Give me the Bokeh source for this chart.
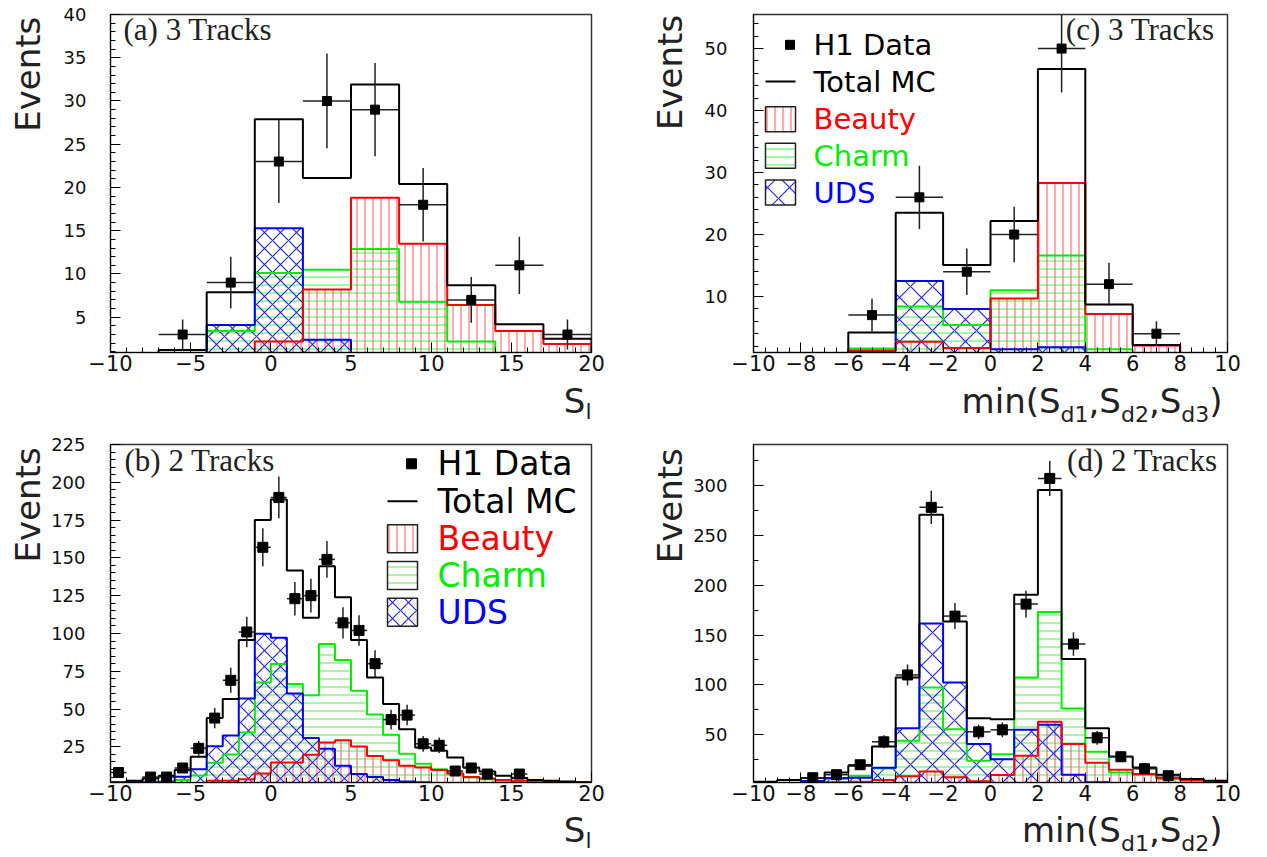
import numpy as np
from bokeh.plotting import figure
from bokeh.models import Range1d, FixedTicker, Label
from bokeh.layouts import column, row
from bokeh.embed import file_html
from bokeh.resources import INLINE

# ---------------- data ----------------
# (a) 3 tracks, S_l
a_edges = [-7, -4, -1, 2, 5, 8, 11, 14, 17, 20]
a_data = [3, 9, 23, 30, 29, 18, 7, 11, 3]
a_mc = [1.2, 7.9, 27.9, 21.1, 31.9, 20.4, 8.7, 4.2, 2.5]
a_beauty = [0, 0, 2.2, 8.2, 18.8, 13.5, 6.4, 3.4, 1.9]
a_charm = [0, 3.4, 10.1, 10.5, 12.9, 6.8, 2.2, 0, 0]
a_uds = [0, 4.1, 15.3, 2.4, 0, 0, 0, 0, 0]

# (c) 3 tracks, min(S_d1,S_d2,S_d3)
c_edges = [-6, -4, -2, 0, 2, 4, 6, 8]
c_data = [7, 26, 14, 20, 50, 12, 4]
c_mc = [4.2, 23.5, 15.1, 22.2, 46.7, 8.7, 2.2]
c_beauty = [1.3, 2.7, 1.7, 9.7, 28.3, 7.2, 2.1]
c_charm = [1.6, 8.4, 5.4, 11.0, 16.6, 1.5, 0]
c_uds = [1.2, 12.5, 8.0, 1.5, 1.8, 0, 0]

# (b) 2 tracks, S_l  (bins of width 1 from -10 to 20)
b_edges = list(range(-10, 21))
b_data = [8, 0, 5, 5, 11, 24, 44, 69, 101, 157, 190, 123, 125, 149, 107,
          102, 80, 43, 46, 27, 26, 9, 11, 7, 0, 7, 0, 0, 0, 0]
b_mc = [1.5, 2.5, 4.0, 5.8, 9.6, 18.4, 44, 56.6, 95.7, 175, 188.6, 141.6, 110.4, 144.4, 123.9,
        95.7, 70.9, 53.3, 36.7, 24.6, 22.4, 17.9, 11.3, 8.6, 5.8, 4.3, 3.1, 2.5, 2.0, 1.6]
b_beauty = [0, 0, 0, 0, 1, 1, 2.5, 2.5, 3.6, 7.3, 14.6, 14.6, 19.7, 27.8, 29.4,
            25.2, 19, 16.2, 12.4, 11.3, 9.6, 7.6, 5.1, 4, 3.1, 2.5, 2, 1.8, 1.6, 1.6]
b_charm = [0, 0, 2, 2, 3, 6, 14.5, 20, 34.5, 67.6, 79.8, 66.5, 59.2, 93, 82.4,
           62.1, 46.4, 33, 20.4, 13.8, 10.2, 6.9, 4.7, 3.6, 2.5, 2, 1.8, 1.5, 0, 0]
b_uds = [1, 1.5, 1.5, 1.5, 5.2, 10.2, 25.4, 32.5, 57, 99.8, 97.2, 60.2, 30.8, 23.7, 12.4,
         7, 5, 3, 2, 1.5, 1, 0, 0, 0, 0, 0, 0, 0, 0, 0]

# (d) 2 tracks, min(S_d1,S_d2)  (bins of width 1 from -10 to 10)
d_edges = list(range(-10, 11))
d_data = [0, 0, 7, 10, 20, 43, 110, 278, 169, 53, 55, 181, 307, 141, 47, 28, 16, 9, 0, 0]
d_mc = [3, 4.6, 6.6, 12.2, 19, 38.3, 107.5, 270.7, 163.6, 66.7,
        65.7, 190.4, 295.4, 125.9, 56.7, 28.2, 17.2, 9.9, 5.6, 4]
d_beauty = [0, 0, 0, 2.5, 3, 4.6, 8.5, 13.2, 7.5, 3.5, 9.8, 29, 63, 40.7, 21.9, 15, 10.6, 6.6, 4.6, 3.3]
d_charm = [0, 0, 3.6, 5.6, 8.9, 16.2, 44, 97.5, 55.7, 24, 30.6, 107.5, 173, 76.4, 33, 12.2, 9.9, 5.6, 3.9, 3]
d_uds = [0, 1, 3.6, 6.6, 7, 17, 56.7, 161.6, 102.5, 40.7, 25.6, 55, 60, 9.9, 2.5, 0, 0, 0, 0, 0]

# ticks
x_ticks_sl = [-10, -5, 0, 5, 10, 15, 20]
x_ticks_sd = [-10, -8, -6, -4, -2, 0, 2, 4, 6, 8, 10]
y_ticks_a = [5, 10, 15, 20, 25, 30, 35, 40]
y_ticks_b = [25, 50, 75, 100, 125, 150, 175, 200, 225]
y_ticks_c = [10, 20, 30, 40, 50]
y_ticks_d = [50, 100, 150, 200, 250, 300]

legend_names = ["H1 Data", "Total MC", "Beauty", "Charm", "UDS"]

# ---------------- style ----------------
SANS = "DejaVu Sans"
SERIF = "Liberation Serif"
RED, GREEN, BLUE = "#ff0000", "#00ee00", "#0000ff"
COMP = {
    "beauty": dict(color=RED, hatch="vertical_line", alpha=0.55, scale=8),
    "charm": dict(color=GREEN, hatch="horizontal_line", alpha=0.6, scale=8),
    "uds": dict(color=BLUE, hatch="diagonal_cross", alpha=0.85, scale=16),
}
MINUS = "\u2212"


class Geo:
    """Maps page pixel positions into a figure's data coordinates."""
    def __init__(self, cx, cy, w, h, L, R, T, B, xr, yr):
        self.cx, self.cy, self.w, self.h = cx, cy, w, h
        self.L, self.R, self.T, self.B = L, R, T, B
        self.xr, self.yr = xr, yr

    def x(self, px):
        return self.xr[0] + (px - self.L) / (self.R - self.L) * (self.xr[1] - self.xr[0])

    def y(self, py):
        return self.yr[1] - (py - self.T) / (self.B - self.T) * (self.yr[1] - self.yr[0])


class StripGeo:
    """A text-only strip whose data units are page pixels (y measured upward)."""
    def __init__(self, cx, cy, w, h):
        self.cx, self.cy, self.w, self.h = cx, cy, w, h

    def x(self, px):
        return px - self.cx

    def y(self, py):
        return self.h - (py - self.cy)


def make_fig(g, xt, xminor, yt, yminor, ystand):
    p = figure(frame_width=g.R - g.L, frame_height=g.B - g.T,
               x_range=Range1d(*g.xr), y_range=Range1d(*g.yr),
               output_backend="svg", toolbar_location=None,
               min_border_left=g.L - g.cx, min_border_right=g.cx + g.w - g.R,
               min_border_top=g.T - g.cy, min_border_bottom=g.cy + g.h - g.B)
    p.xgrid.visible = False
    p.ygrid.visible = False
    p.outline_line_color = "#333333"
    p.outline_line_width = 1.5
    xa, ya = p.xaxis[0], p.yaxis[0]
    xa.ticker = FixedTicker(ticks=xt, minor_ticks=xminor)
    ya.ticker = FixedTicker(ticks=yt, minor_ticks=yminor)
    xa.major_label_overrides = {t: (MINUS + str(abs(t)) if t < 0 else str(t)) for t in xt}
    for ax in (xa, ya):
        ax.major_tick_in = 10
        ax.major_tick_out = 0
        ax.minor_tick_in = 5
        ax.minor_tick_out = 0
        ax.axis_line_color = "black"
        ax.major_tick_line_color = "black"
        ax.minor_tick_line_color = "black"
        ax.major_label_text_font = SANS
        ax.major_label_text_color = "#111111"
    xa.major_label_text_font_size = "21px"
    ya.major_label_text_font_size = "18px"
    xa.major_label_standoff = 2
    ya.major_label_standoff = ystand
    return p


def make_strip(g):
    s = figure(width=g.w, height=g.h, x_range=Range1d(0, g.w), y_range=Range1d(0, g.h),
               output_backend="svg", toolbar_location=None, x_axis_location=None,
               y_axis_location=None, min_border=0, outline_line_color=None)
    s.grid.visible = False
    return s


def step_path(edges, vals):
    xs, ys = [edges[0]], [0.0]
    for i, v in enumerate(vals):
        xs += [edges[i], edges[i + 1]]
        ys += [v, v]
    xs.append(edges[-1])
    ys.append(0.0)
    return xs, ys


def draw_panel(p, edges, data, mc, beauty, charm, uds, cross_scale, msize):
    e = np.array(edges, dtype=float)
    for name, vals in (("beauty", beauty), ("charm", charm), ("uds", uds)):
        st = COMP[name]
        sc = cross_scale if name == "uds" else st["scale"]
        p.quad(left=e[:-1], right=e[1:], bottom=0, top=vals, fill_color=None, line_color=None,
               hatch_pattern=st["hatch"], hatch_color=st["color"], hatch_alpha=st["alpha"],
               hatch_scale=sc, hatch_weight=1.2)
    for name, vals in (("charm", charm), ("uds", uds), ("beauty", beauty)):
        xs, ys = step_path(edges, vals)
        p.line(xs, ys, line_color=COMP[name]["color"], line_width=2)
    xs, ys = step_path(edges, mc)
    p.line(xs, ys, line_color="black", line_width=2)
    n = np.array(data, dtype=float)
    c = (e[:-1] + e[1:]) / 2
    hw = (e[1:] - e[:-1]) / 2
    m = n > 0
    err = np.sqrt(n[m])
    p.segment(x0=c[m], x1=c[m], y0=n[m] - err, y1=n[m] + err, line_color="#222222", line_width=1.5)
    p.segment(x0=c[m] - hw[m], x1=c[m] + hw[m], y0=n[m], y1=n[m], line_color="#222222", line_width=1.5)
    p.scatter(c[m], n[m], marker="square", size=msize, fill_color="black", line_color="black")


def add_label(p, g, px, py, text, size, font=SANS, color="black", align="left", angle=0.0):
    """py is the vertical centre of the text line (page pixels)."""
    p.add_layout(Label(x=g.x(px), y=g.y(py), text=text, text_font=font, text_font_size=f"{size}px",
                       text_color=color, text_align=align, text_baseline="middle", angle=angle))


ADV = {"m": .974, "i": .278, "n": .634, "(": .390, ")": .390, "S": .635, "d": .635,
       "1": .636, "2": .636, "3": .636, ",": .318, "l": .278}


def sub_title(p, g, end_px, base_py, pieces, big=34, small=22, drop=8):
    widths = []
    for t, sub in pieces:
        sz = small if sub else big
        widths.append(sum(ADV[ch] for ch in t) * sz)
    x = end_px - sum(widths)
    for (t, sub), w in zip(pieces, widths):
        sz = small if sub else big
        yc = base_py + (drop if sub else 0) - 0.36 * sz
        add_label(p, g, x, yc, t, sz, color="#222222")
        x += w


def legend(p, g, key_l, key_r, text_x, ys, box_h, size, cross_scale, msize):
    colors = ["black", "black", RED, GREEN, BLUE]
    p.scatter([g.x(key_r - 1 - msize / 2)], [g.y(ys[0])], marker="square", size=msize,
              fill_color="black", line_color="black")
    p.line([g.x(key_l), g.x(key_r)], [g.y(ys[1]), g.y(ys[1])], line_color="black", line_width=2)
    for name, yc in zip(("beauty", "charm", "uds"), ys[2:]):
        st = COMP[name]
        p.quad(left=[g.x(key_l)], right=[g.x(key_r)], top=[g.y(yc - box_h / 2)],
               bottom=[g.y(yc + box_h / 2)], fill_color=None, line_color="#222222", line_width=1.5,
               hatch_pattern=st["hatch"], hatch_color=st["color"], hatch_alpha=st["alpha"],
               hatch_scale=cross_scale if name == "uds" else st["scale"], hatch_weight=1.2)
    for txt, yc, col in zip(legend_names, ys, colors):
        add_label(p, g, text_x, yc, txt, size, color=col)


# ---------------- geometry (page pixels, page origin at 0,0) ----------------
ga = Geo(48, 0, 600, 379, 110, 591, 14, 352, (-10, 20), (0.92, 40))
gc = Geo(690, 0, 577, 379, 753, 1227, 14, 352, (-10, 10), (0.97, 55.5))
gb = Geo(48, 434, 600, 375, 110, 591, 444, 782, (-10, 20), (1.4, 225))
gd = Geo(690, 434, 577, 375, 753, 1227, 444, 782, (-10, 10), (2.2, 341))

e1a, e2a = StripGeo(0, 0, 48, 379), StripGeo(648, 0, 42, 379)
e1b, e2b = StripGeo(0, 434, 48, 375), StripGeo(648, 434, 42, 375)
t1, t2 = StripGeo(0, 379, 1267, 55), StripGeo(0, 809, 1267, 48)

minor_sl = list(range(-10, 21))
minor_sd = list(np.arange(-10, 10.01, 0.5))

pa = make_fig(ga, x_ticks_sl, minor_sl, y_ticks_a, list(range(1, 41)), 24)
pc = make_fig(gc, x_ticks_sd, minor_sd, y_ticks_c, list(range(2, 56, 2)), 26)
pb = make_fig(gb, x_ticks_sl, minor_sl, y_ticks_b, list(range(5, 226, 5)), 25)
pd = make_fig(gd, x_ticks_sd, minor_sd, y_ticks_d, list(range(25, 341, 25)), 26)

draw_panel(pa, a_edges, a_data, a_mc, a_beauty, a_charm, a_uds, 16, 9)
draw_panel(pc, c_edges, c_data, c_mc, c_beauty, c_charm, c_uds, 22, 9)
draw_panel(pb, b_edges, b_data, b_mc, b_beauty, b_charm, b_uds, 16, 10)
draw_panel(pd, d_edges, d_data, d_mc, d_beauty, d_charm, d_uds, 22, 10)

# legends
legend(pc, gc, 765, 795, 813, [44.3, 81, 118.7, 155.3, 192], 25, 29, 22, 9)
legend(pb, gb, 387, 417, 437, [463.3, 500.7, 538.3, 575, 611.7], 28, 33, 16, 10)

# panel tags
add_label(pa, ga, 123, 28.5, "(a) 3 Tracks", 31, font=SERIF, color="#222222")
add_label(pc, gc, 1214, 28.5, "(c) 3 Tracks", 31, font=SERIF, color="#222222", align="right")
add_label(pb, gb, 124, 459.5, "(b) 2 Tracks", 31, font=SERIF, color="#222222")
add_label(pd, gd, 1217, 459.5, "(d) 2 Tracks", 31, font=SERIF, color="#222222", align="right")

# y titles in narrow strips (centred rotated text)
s_e1a, s_e2a, s_e1b, s_e2b = (make_strip(g) for g in (e1a, e2a, e1b, e2b))
for s, g, cx_, cy_ in ((s_e1a, e1a, 27, 67), (s_e1b, e1b, 27, 501),
                       (s_e2a, e2a, 669, 65), (s_e2b, e2b, 669, 502)):
    add_label(s, g, cx_, cy_, "Events", 34, color="#222222", align="center", angle=np.pi / 2)

# x titles in wide strips
s_t1, s_t2 = make_strip(t1), make_strip(t2)
sub_title(s_t1, t1, 591, 413, [("S", False), ("l", True)], drop=6)
sub_title(s_t1, t1, 1222, 413, [("min(", False), ("S", False), ("d1", True), (",", False),
                                 ("S", False), ("d2", True), (",", False), ("S", False),
                                 ("d3", True), (")", False)], drop=9)
sub_title(s_t2, t2, 591, 841.5, [("S", False), ("l", True)], drop=6.5)
sub_title(s_t2, t2, 1222, 842, [("min(", False), ("S", False), ("d1", True), (",", False),
                                 ("S", False), ("d2", True), (")", False)], drop=9)

layout = column(row(s_e1a, pa, s_e2a, pc), s_t1, row(s_e1b, pb, s_e2b, pd), s_t2)
open("out.html", "w").write(file_html(layout, INLINE))
